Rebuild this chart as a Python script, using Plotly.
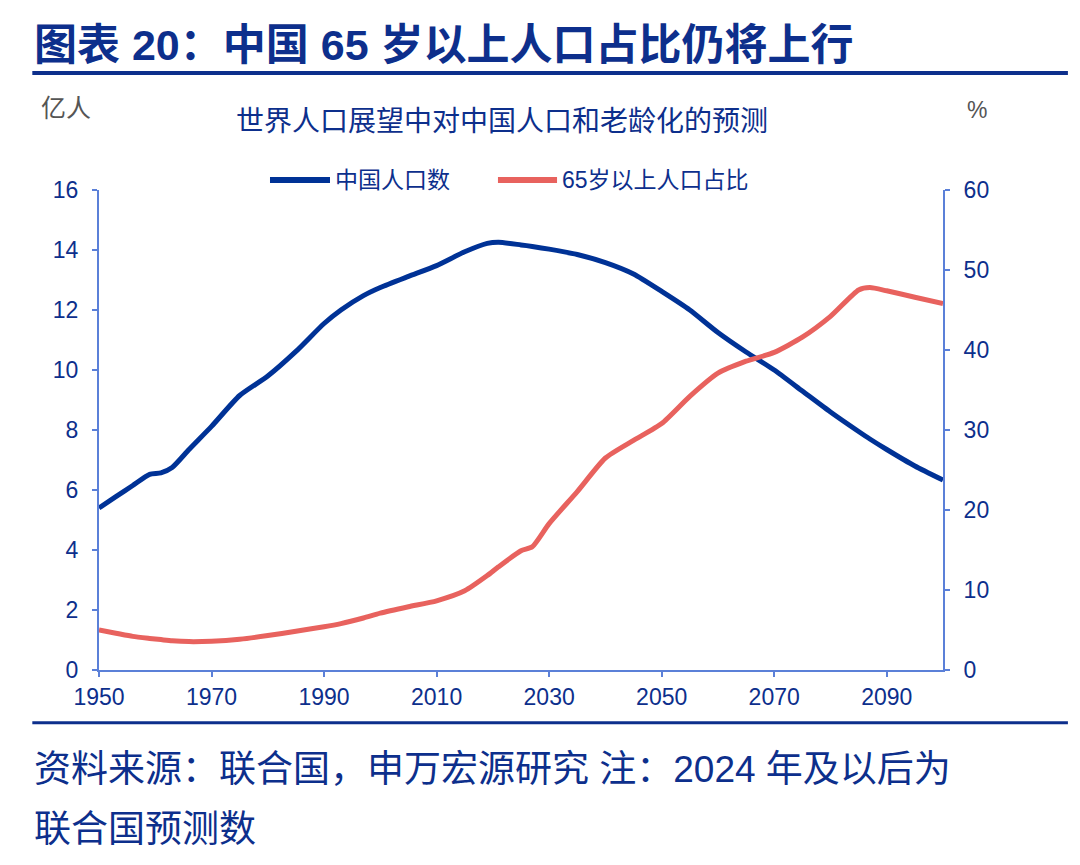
import plotly.graph_objects as go

# ---- data ----
years = [1950, 1953, 1956, 1959, 1961, 1963, 1966, 1970, 1975, 1980,
         1985, 1990, 1993, 1997, 2000, 2005, 2010, 2015, 2019, 2021,
         2025, 2027, 2030, 2035, 2040, 2045, 2050, 2055, 2060, 2065,
         2070, 2075, 2080, 2085, 2087, 2090, 2095, 2100]

# China population, 100 million (left axis)
population = [5.40, 5.78, 6.15, 6.52, 6.57, 6.75, 7.35, 8.12, 9.15, 9.80,
              10.62, 11.55, 12.00, 12.48, 12.75, 13.12, 13.48, 13.94, 14.22, 14.26,
              14.17, 14.12, 14.03, 13.85, 13.58, 13.20, 12.62, 12.00, 11.25, 10.60,
              10.00, 9.30, 8.60, 7.95, 7.70, 7.35, 6.80, 6.33]

# share of population aged 65+, % (right axis)
share65 = [5.0, 4.6, 4.2, 3.95, 3.8, 3.65, 3.55, 3.6, 3.85, 4.3,
           4.85, 5.4, 5.8, 6.5, 7.1, 7.9, 8.65, 9.9, 11.8, 12.9,
           14.9, 15.4, 18.3, 22.3, 26.5, 28.7, 30.8, 34.2, 37.1, 38.6,
           39.7, 41.6, 44.2, 47.5, 47.8, 47.4, 46.6, 45.8]

x_ticks = [1950, 1970, 1990, 2010, 2030, 2050, 2070, 2090]

navy = "#0D2F8C"
line_blue = "#003296"
line_red = "#E8625E"
axis_col = "#5B80D8"
font_fam = "Arial, Liberation Sans, Noto Sans CJK SC, sans-serif"

fig = go.Figure()

fig.add_trace(go.Scatter(x=years, y=population, name="中国人口数",
                         mode="lines", line=dict(color=line_blue, width=5, shape="spline", smoothing=0.6)))
fig.add_trace(go.Scatter(x=years, y=share65, name="65岁以上人口占比", yaxis="y2",
                         mode="lines", line=dict(color=line_red, width=5, shape="spline", smoothing=0.6)))

axis_common = dict(showline=True, linecolor=axis_col, linewidth=2, ticks="outside",
                   ticklen=5, tickcolor=axis_col, tickwidth=2, showgrid=False, zeroline=False,
                   tickfont=dict(family=font_fam, size=23, color=navy))

fig.update_layout(
    width=1072, height=857,
    margin=dict(l=91, r=137, t=182, b=195),
    paper_bgcolor="white", plot_bgcolor="white",
    font=dict(family=font_fam, color=navy),
    showlegend=False,
    xaxis=dict(range=[1950, 2100], tickvals=x_ticks, **axis_common),
    yaxis=dict(range=[0, 16], dtick=2, ticklabelstandoff=9, **axis_common),
    yaxis2=dict(range=[0, 60], dtick=10, overlaying="y", side="right", ticklabelstandoff=9, **axis_common),
)

# legend drawn by hand so the line samples match the original length
leg_y = 1.021
for x0, x1, col, label in [(0.2026, 0.2737, line_blue, "中国人口数"),
                           (0.4727, 0.5427, line_red, "65岁以上人口占比")]:
    fig.add_shape(type="line", xref="paper", yref="paper", x0=x0, x1=x1, y0=leg_y, y1=leg_y,
                  line=dict(color=col, width=6))
    fig.add_annotation(text=label, xref="paper", yref="paper", x=x1 + 0.004, y=leg_y,
                       xanchor="left", yanchor="middle", showarrow=False,
                       font=dict(size=23, color=navy))

# titles, units and source notes
fig.add_annotation(text="<b>图表 20：中国 65 岁以上人口占比仍将上行</b>", xref="paper", yref="paper",
                   x=-0.079, y=1.302, xanchor="left", yanchor="middle", showarrow=False,
                   font=dict(size=43, color=navy))
fig.add_annotation(text="亿人", xref="paper", yref="paper", x=-0.071, y=1.171,
                   xanchor="left", yanchor="middle", showarrow=False,
                   font=dict(size=25, color="#555555"))
fig.add_annotation(text="%", xref="paper", yref="paper", x=1.04, y=1.167,
                   xanchor="center", yanchor="middle", showarrow=False,
                   font=dict(size=23, color="#555555"))
fig.add_annotation(text="世界人口展望中对中国人口和老龄化的预测", xref="paper", yref="paper",
                   x=0.477, y=1.142, xanchor="center", yanchor="middle", showarrow=False,
                   font=dict(size=28, color=navy))
fig.add_annotation(text="资料来源：联合国，申万宏源研究 注：2024 年及以后为", xref="paper", yref="paper",
                   x=-0.079, y=-0.208, xanchor="left", yanchor="middle", showarrow=False,
                   font=dict(size=37, color=navy))
fig.add_annotation(text="联合国预测数", xref="paper", yref="paper",
                   x=-0.079, y=-0.333, xanchor="left", yanchor="middle", showarrow=False,
                   font=dict(size=37, color=navy))

# horizontal rules
fig.add_shape(type="line", xref="paper", yref="paper", x0=-0.079, x1=1.148, y0=1.244, y1=1.244,
              line=dict(color=navy, width=4))
fig.add_shape(type="line", xref="paper", yref="paper", x0=-0.079, x1=1.148, y0=-0.11, y1=-0.11,
              line=dict(color=navy, width=3))

fig.write_html("out.html")
